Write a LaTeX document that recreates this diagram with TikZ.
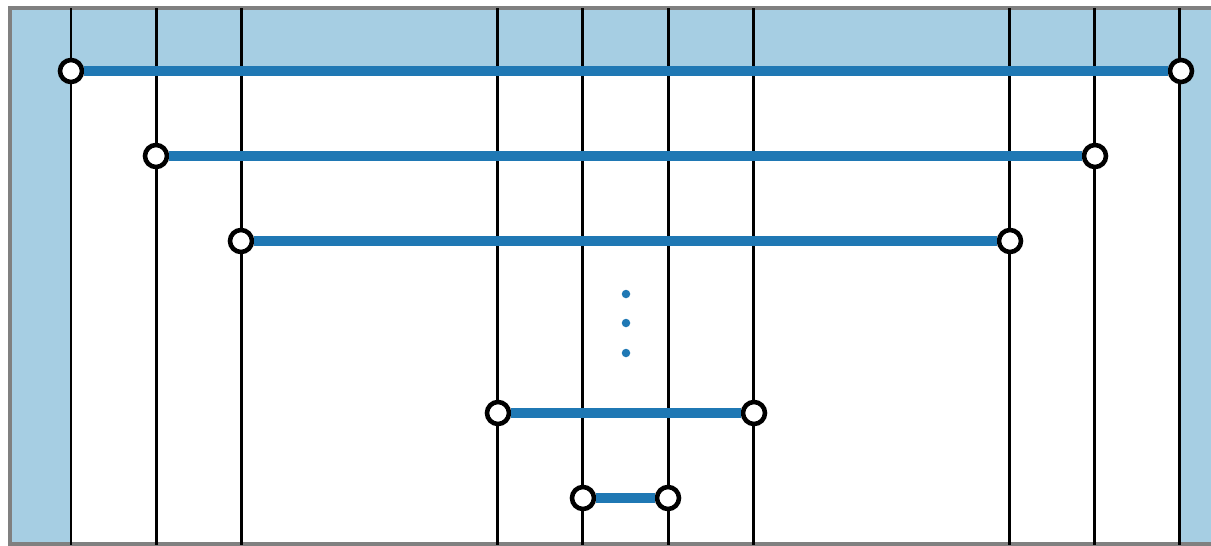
\documentclass[tikz,border=0pt]{standalone}
\usepackage{xcolor}
\usetikzlibrary{positioning,calc}
\definecolor{lightband}{HTML}{A6CEE3}
\definecolor{darkband}{HTML}{1F78B4}

\begin{document}
\begin{tikzpicture}[x=0.02cm, y=-0.02cm,
  wire/.style={line width=1.7pt, black},
  link/.style={line width=5.3pt, darkband},
  port/.style={draw, circle, fill=white, line width=2.6pt, minimum size=0.44cm, inner sep=0pt}]
\useasboundingbox (0,0) rectangle (1211,545);
% shaded frame
\fill[lightband] (10,8) rectangle (1213,545);
\fill[white] (71,71) rectangle (1181,545);
\draw[gray, line width=2pt] (1213,8) -- (10,8) -- (10,544) -- (1213,544);

% vertical wires
\foreach \k in {0,1,2,5,6,7,8,11,12,13} {
  \coordinate (t\k) at (71+85.3*\k, 8);
  \coordinate (b\k) at (71+85.3*\k, 545);
  \draw[wire] (t\k) -- (b\k);
}

% ports on the wires
\node[port] (p0) at (71,71) {};
\node[port] (q0) at (1181,71) {};
\node[port] (p1) at (156,156) {};
\node[port] (q1) at (1095,156) {};
\node[port] (p2) at (241,241) {};
\node[port] (q2) at (1010,241) {};
\node[port] (p3) at (498,413) {};
\node[port] (q3) at (754,413) {};
\node[port] (p4) at (583,498) {};
\node[port] (q4) at (668,498) {};

% links between ports
\foreach \i in {0,...,4}
  \draw[link] (p\i) -- (q\i);

% ellipsis
\foreach \y in {294,323,353}
  \fill[darkband] (626,\y) circle (0.085cm);
\end{tikzpicture}
\end{document}
